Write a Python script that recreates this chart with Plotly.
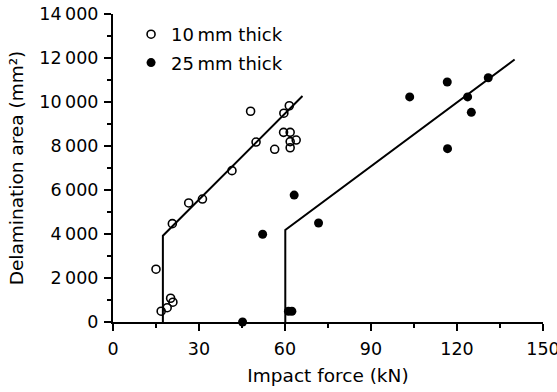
import plotly.graph_objects as go

# 10 mm thick (open circles)
thin_force = [15.0, 16.8, 18.9, 20.1, 20.9, 20.7, 26.4, 31.2, 41.5, 48.0, 49.9, 56.4, 59.5, 59.6, 61.5, 61.8, 61.8, 61.8, 63.9]
thin_area = [2400, 490, 650, 1080, 900, 4470, 5410, 5590, 6880, 9580, 8180, 7850, 8620, 9490, 9830, 8620, 8200, 7920, 8270]

# 25 mm thick (filled circles)
thick_force = [45.2, 52.2, 63.2, 71.7, 61.2, 62.4, 103.5, 116.6, 130.9, 123.7, 125.0, 116.7]
thick_area = [0, 3990, 5770, 4500, 490, 490, 10230, 10910, 11100, 10230, 9530, 7880]

# trend lines (threshold + linear growth)
thin_line_force = [17.4, 17.4, 66.1]
thin_line_area = [0, 3920, 10270]
thick_line_force = [60.1, 60.1, 140.1]
thick_line_area = [0, 4180, 11930]

x_ticks = [0, 30, 60, 90, 120, 150]
y_ticks = [0, 2000, 4000, 6000, 8000, 10000, 12000, 14000]
y_tick_text = ["0", "2\u2009000", "4\u2009000", "6\u2009000", "8\u2009000", "10\u2009000", "12\u2009000", "14\u2009000"]

FONT = "DejaVu Sans, sans-serif"
TICK_FS = 17.5
TITLE_FS = 18.5
LEG_FS = 18

fig = go.Figure()
fig.add_trace(go.Scatter(x=thin_line_force, y=thin_line_area, mode="lines",
                         line=dict(color="black", width=2), showlegend=False, cliponaxis=False))
fig.add_trace(go.Scatter(x=thick_line_force, y=thick_line_area, mode="lines",
                         line=dict(color="black", width=2), showlegend=False, cliponaxis=False))
fig.add_trace(go.Scatter(x=thin_force, y=thin_area, mode="markers", name="10\u2009mm thick",
                         legendgroup="a",
                         marker=dict(symbol="circle-open", size=8, color="black", line=dict(width=1.6)),
                         cliponaxis=False))
fig.add_trace(go.Scatter(x=thick_force, y=thick_area, mode="markers", name="25\u2009mm thick",
                         legendgroup="b",
                         marker=dict(symbol="circle", size=9, color="black"),
                         cliponaxis=False))

axis_common = dict(ticks="outside", ticklen=7, tickwidth=1.5, tickcolor="black",
                   showline=True, linecolor="black", linewidth=2, showgrid=False, zeroline=False,
                   automargin=False, ticklabeloverflow="allow",
                   tickfont=dict(family=FONT, size=TICK_FS, color="black"))

fig.update_layout(
    width=557, height=392,
    margin=dict(l=113, r=14, t=14, b=69.5),
    paper_bgcolor="white", plot_bgcolor="white",
    font=dict(family=FONT, size=TICK_FS, color="black"),
    showlegend=True,
    legend=dict(x=0.042, y=0.9935, xanchor="left", yanchor="top", tracegroupgap=2,
                bgcolor="rgba(0,0,0,0)", font=dict(family=FONT, size=LEG_FS), itemwidth=30),
    xaxis=dict(range=[0, 150], tickvals=x_ticks, ticklabelstandoff=3,
               minor=dict(dtick=15, tick0=0, ticks="outside", ticklen=4, tickwidth=1.5, tickcolor="black", showgrid=False),
               title=dict(text="Impact force (kN)", standoff=11, font=dict(family=FONT, size=TITLE_FS)),
               **axis_common),
    yaxis=dict(range=[0, 14000], tickvals=y_ticks, ticktext=y_tick_text, ticklabelstandoff=2,
               minor=dict(dtick=1000, tick0=0, ticks="outside", ticklen=4, tickwidth=1.5, tickcolor="black", showgrid=False),
               title=dict(text="Delamination area (mm\u00b2)", standoff=11, font=dict(family=FONT, size=TITLE_FS)),
               **axis_common),
)

# remove the page's default body margin so the figure fills the window from its top-left corner
fig.write_html("out.html", config={"displayModeBar": False},
               post_script="document.body.style.margin='0';")
